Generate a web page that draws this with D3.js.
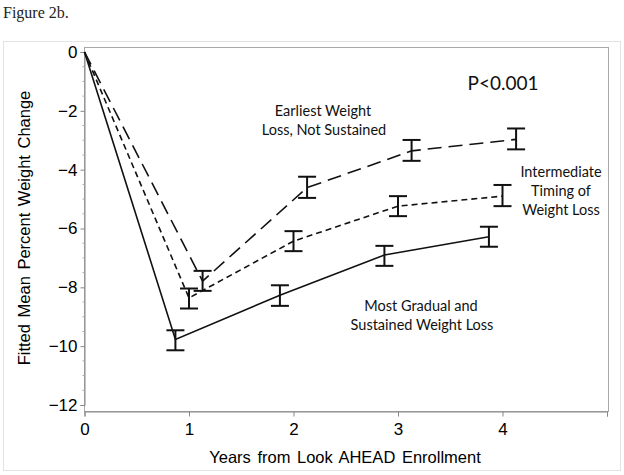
<!DOCTYPE html>
<html><head><meta charset="utf-8">
<script src="https://cdn.jsdelivr.net/npm/d3@7"></script>
<style>body{margin:0;background:#fff}svg{display:block}</style>
</head><body>
<svg id="c" width="624" height="475"></svg>
<script>
// ---- data ----
const xTicks = [0, 1, 2, 3, 4, 5];
const xTickLabels = ["0", "1", "2", "3", "4", ""];
const yTicks = [0, -2, -4, -6, -8, -10, -12];

const gradualX    = [0, 0.87, 1.87, 2.87, 3.87];
const gradualMean = [0, -9.77, -8.27, -6.90, -6.28];
const gradualLow  = [0, -10.14, -8.63, -7.27, -6.62];
const gradualHigh = [0, -9.46, -7.93, -6.59, -5.94];

const interX    = [0, 1.00, 2.00, 3.00, 4.00];
const interMean = [0, -8.36, -6.43, -5.24, -4.90];
const interLow  = [0, -8.72, -6.77, -5.58, -5.24];
const interHigh = [0, -8.04, -6.09, -4.90, -4.52];

const earlyX    = [0, 1.13, 2.13, 3.13, 4.13];
const earlyMean = [0, -7.79, -4.61, -3.36, -2.97];
const earlyLow  = [0, -8.12, -4.96, -3.70, -3.31];
const earlyHigh = [0, -7.44, -4.24, -2.99, -2.60];

const series = [
  {x: gradualX, m: gradualMean, lo: gradualLow, hi: gradualHigh, dash: null},
  {x: interX, m: interMean, lo: interLow, hi: interHigh, dash: "6,4"},
  {x: earlyX, m: earlyMean, lo: earlyLow, hi: earlyHigh, dash: "14,7"}
];

// ---- layout ----
const svg = d3.select("#c");
const x = d3.scaleLinear().domain([0, 5]).range([84.5, 607]);
const y = d3.scaleLinear().domain([-12, 0]).range([405, 52]);
const plotTop = 47, plotBottom = 411, plotLeft = 84, plotRight = 608;
const sans = "'Liberation Sans', Arial, sans-serif";
const cal = "Lato, 'Open Sans', sans-serif";

svg.append("text").attr("x", 3).attr("y", 18).attr("font-family", "'Liberation Serif', 'DejaVu Serif', serif")
  .attr("font-size", 16).attr("fill", "#222").text("Figure 2b.");

// outer frame
svg.append("rect").attr("x", 3.5).attr("y", 41.5).attr("width", 617).attr("height", 429)
  .attr("fill", "none").attr("stroke", "#e2e2e2").attr("stroke-width", 1);

// plot frame
svg.append("rect").attr("x", plotLeft + 0.5).attr("y", plotTop + 0.5)
  .attr("width", plotRight - plotLeft).attr("height", plotBottom - plotTop)
  .attr("fill", "none").attr("stroke", "#a8a8a8").attr("stroke-width", 1);

// x axis
const xAxis = d3.axisBottom(x).tickValues(xTicks).tickSize(5).tickPadding(6)
  .tickFormat((d, i) => xTickLabels[i]);
const gx = svg.append("g").attr("transform", `translate(0,${plotBottom + 0.5})`).call(xAxis);
gx.select(".domain").attr("stroke", "#888");
gx.selectAll(".tick line").attr("stroke", "#888");
gx.selectAll("text").attr("font-family", sans).attr("font-size", 17).attr("fill", "#000");

// y axis
const yAxis = d3.axisLeft(y).tickValues(yTicks).tickSize(4).tickPadding(3)
  .tickFormat(d => d < 0 ? "\u2212" + Math.abs(d) : String(d));
const gy = svg.append("g").attr("transform", `translate(${plotLeft + 0.5},0)`).call(yAxis);
gy.select(".domain").attr("stroke", "#888");
gy.selectAll(".tick line").attr("stroke", "#888");
gy.selectAll("text").attr("font-family", sans).attr("font-size", 17).attr("fill", "#000");
// minor ticks
const minor = d3.range(-12, 0.01, 0.5).filter(v => Math.abs(v % 2) > 0.01);
svg.append("g").selectAll("line").data(minor).join("line")
  .attr("x1", plotLeft + 0.5).attr("x2", plotLeft - 1.5)
  .attr("y1", d => y(d)).attr("y2", d => y(d)).attr("stroke", "#aaa");

// axis titles
svg.append("text").attr("transform", "translate(30,228) rotate(-90)").attr("text-anchor", "middle")
  .attr("font-family", sans).attr("font-size", 16.5).attr("word-spacing", 2).attr("fill", "#000")
  .text("Fitted Mean Percent Weight Change");
svg.append("text").attr("x", 345).attr("y", 463).attr("text-anchor", "middle")
  .attr("font-family", sans).attr("font-size", 16.5).attr("word-spacing", 2).attr("fill", "#000")
  .text("Years from Look AHEAD Enrollment");

// lines
const line = d3.line().x(d => x(d[0])).y(d => y(d[1]));
series.forEach(s => {
  const pts = s.x.map((v, i) => [v, s.m[i]]);
  svg.append("path").attr("d", line(pts)).attr("fill", "none").attr("stroke", "#111")
    .attr("stroke-width", 1.6).attr("stroke-dasharray", s.dash);
  const eb = svg.append("g").attr("stroke", "#111").attr("stroke-width", 2);
  s.x.forEach((v, i) => {
    if (i === 0) return;
    const cx = x(v);
    eb.append("line").attr("x1", cx).attr("x2", cx).attr("y1", y(s.lo[i])).attr("y2", y(s.hi[i]));
    eb.append("line").attr("x1", cx - 9).attr("x2", cx + 9).attr("y1", y(s.lo[i])).attr("y2", y(s.lo[i]));
    eb.append("line").attr("x1", cx - 9).attr("x2", cx + 9).attr("y1", y(s.hi[i])).attr("y2", y(s.hi[i]));
  });
});

// annotations
const ann = [
  {t: "P<0.001", x: 503, y: 90, s: 19},
  {t: "Earliest Weight", x: 323, y: 116, s: 14.5},
  {t: "Loss, Not Sustained", x: 324, y: 135, s: 14.5},
  {t: "Intermediate", x: 561, y: 177, s: 14.5},
  {t: "Timing of", x: 561, y: 196, s: 14.5},
  {t: "Weight Loss", x: 561, y: 215, s: 14.5},
  {t: "Most Gradual and", x: 421, y: 311, s: 14.5},
  {t: "Sustained Weight Loss", x: 422, y: 330, s: 14.5}
];
svg.append("g").selectAll("text").data(ann).join("text")
  .attr("x", d => d.x).attr("y", d => d.y).attr("text-anchor", "middle")
  .attr("font-family", cal).attr("font-size", d => d.s).attr("fill", "#111").text(d => d.t);
</script>
</body></html>
